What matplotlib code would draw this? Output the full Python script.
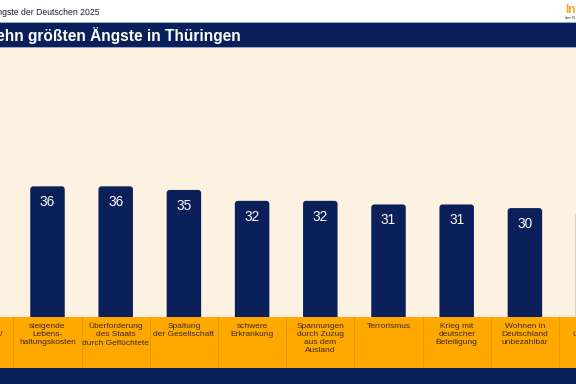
import matplotlib
matplotlib.use("Agg")
import matplotlib.pyplot as plt
from matplotlib.patches import Rectangle, FancyBboxPatch

plt.rcParams['font.family'] = ['Liberation Sans', 'DejaVu Sans']

# data (first and last category sit outside the visible crop)
categories = [
    "Steuer-\nerhöhungen/\nLeistungs-\nkürzungen",
    "steigende\nLebens-\nhaltungskosten",
    "Überforderung\ndes Staats\ndurch Geflüchtete",
    "Spaltung\nder Gesellschaft",
    "schwere\nErkrankung",
    "Spannungen\ndurch Zuzug\naus dem\nAusland",
    "Terrorismus",
    "Krieg mit\ndeutscher\nBeteiligung",
    "Wohnen in\nDeutschland\nunbezahlbar",
    "Politiker\nüberfordert",
]
values = [37, 36, 36, 35, 32, 32, 31, 31, 30, 29]

header = "Die Ängste der Deutschen 2025"
title = "Die zehn größten Ängste in Thüringen"

NAVY = "#0b1f5a"
ORANGE = "#ffa800"
CREAM = "#fdf1e1"

W, H = 576, 384
fig = plt.figure(figsize=(W / 100, H / 100), dpi=100)
fig.patch.set_facecolor("white")


def fy(px):
    # pixel from top -> figure fraction
    return 1 - px / H


# background bands
fig.patches.append(Rectangle((0, fy(48)), 1, fy(22) - fy(48), transform=fig.transFigure,
                             facecolor="#9aa8c8", edgecolor="none", zorder=0))
fig.patches.append(Rectangle((0, fy(47)), 1, fy(23.5) - fy(47), transform=fig.transFigure,
                             facecolor=NAVY, edgecolor="none", zorder=0))
fig.patches.append(Rectangle((0, 0), 1, fy(368), transform=fig.transFigure,
                             facecolor=NAVY, edgecolor="none", zorder=0))

fig.text(99 / W, fy(12), header, ha="right", va="center", fontsize=6.2, color="#1c1c30")
fig.text(241 / W, fy(35), title, ha="right", va="center", fontsize=11.2,
         fontweight="bold", color="white")
fig.text(565 / W, fy(10), "Infocenter", ha="left", va="center", fontsize=8.5,
         fontweight="bold", color="#f5a623")
fig.text(565 / W, fy(18), "der R+V Versicherung", ha="left", va="center", fontsize=3,
         color="#333333")

# bar area
spacing = 68.2
x0 = 1 - 47.5 / spacing
x1 = x0 + W / spacing
ax = fig.add_axes([0, fy(317), 1, fy(48) - fy(317)])
ax.set_xlim(x0, x1)
px_y = 3.63
ax.set_ylim(0, 269 / px_y)
ax.axis("off")
ax.add_patch(Rectangle((0, 0), 1, 1, transform=ax.transAxes, facecolor=CREAM,
                       edgecolor="none", zorder=0))

xs = list(range(len(values)))
bars = ax.bar(xs, values, width=34.5 / spacing, color=NAVY)
for b, v in zip(bars, values):
    x, y = b.get_x(), b.get_y()
    w, h = b.get_width(), b.get_height()
    b.remove()
    p = FancyBboxPatch((x, y - 3), w, h + 3,
                       boxstyle=f"round,pad=0,rounding_size={3 / spacing}",
                       mutation_aspect=spacing / px_y, facecolor=NAVY, edgecolor="none",
                       zorder=2)
    ax.add_patch(p)
    ax.text(x + w / 2, v - 16 / px_y, f"{v}", ha="center", va="center",
            fontsize=9.8, color="white", zorder=3)

# label band
axl = fig.add_axes([0, fy(368), 1, fy(317) - fy(368)])
axl.set_xlim(x0, x1)
axl.set_ylim(0, 1)
axl.axis("off")
axl.add_patch(Rectangle((0, 0), 1, 1, transform=axl.transAxes, facecolor=ORANGE,
                        edgecolor="none", zorder=0))
for i in range(len(categories) - 1):
    axl.axvline(i + 0.5, color="#e89600", lw=0.6, zorder=1)
for i, lab in enumerate(categories):
    axl.text(i, 1 - 5.5 / 51, lab, ha="center", va="top", fontsize=6.0,
             color="#3a2c20", linespacing=1.22, zorder=2)

fig.savefig("out.png", dpi=100)
